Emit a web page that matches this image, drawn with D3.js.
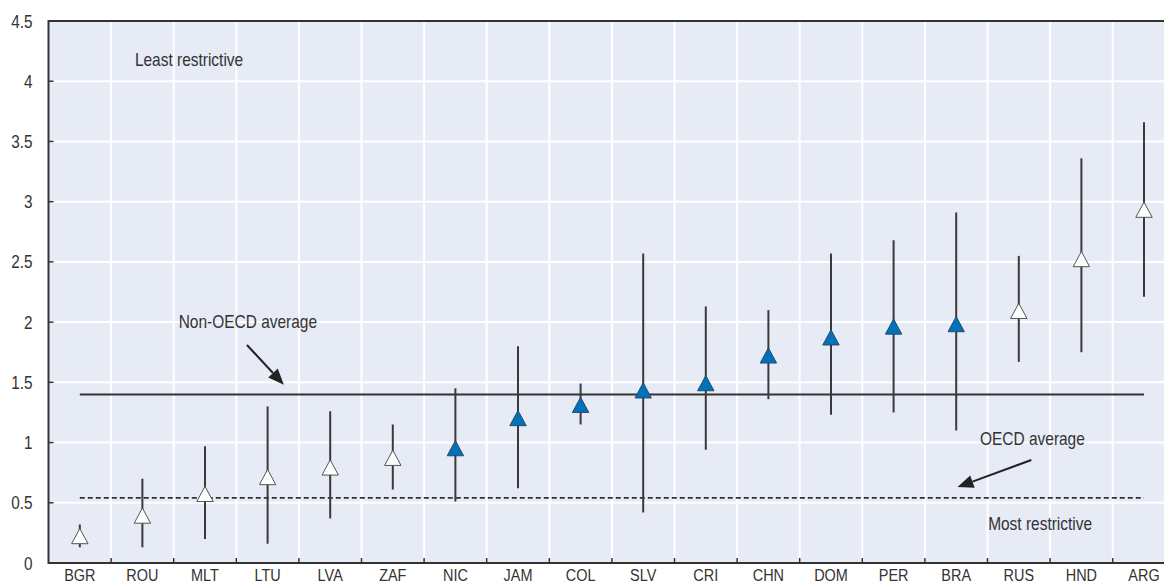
<!DOCTYPE html>
<html>
<head>
<meta charset="utf-8">
<script src="https://cdn.jsdelivr.net/npm/d3@7"></script>
<style>
html,body{margin:0;padding:0;background:#fff;overflow:hidden;}
svg{display:block;}
text{font-family:"Liberation Sans",Arial,Helvetica,sans-serif;fill:#333;}
</style>
</head>
<body>
<svg id="chart" width="1164" height="585"></svg>
<script>
// ---- data ----
const categories = ["BGR","ROU","MLT","LTU","LVA","ZAF","NIC","JAM","COL","SLV","CRI","CHN","DOM","PER","BRA","RUS","HND","ARG"];
const pointValues = [0.22,0.39,0.57,0.71,0.79,0.87,0.95,1.20,1.31,1.43,1.49,1.72,1.87,1.96,1.98,2.09,2.52,2.93];
const lowValues   = [0.13,0.13,0.20,0.16,0.37,0.61,0.51,0.62,1.15,0.42,0.94,1.36,1.23,1.25,1.10,1.67,1.75,2.21];
const highValues  = [0.32,0.70,0.97,1.30,1.26,1.15,1.45,1.80,1.49,2.57,2.13,2.10,2.57,2.68,2.91,2.55,3.36,3.66];
const oecdMember  = [true,true,true,true,true,true,false,false,false,false,false,false,false,false,false,true,true,true];
const nonOecdAverage = 1.40;
const oecdAverage = 0.54;
const yTicks = [0,0.5,1,1.5,2,2.5,3,3.5,4,4.5];
const yTickLabels = ["0","0.5","1","1.5","2","2.5","3","3.5","4","4.5"];

(function () {
// ---- layout ----
const svg = d3.select("#chart");
const pL = 48.5, pR = 1175.3, pT = 21, pB = 563;
const SX = 0.85; // horizontal squeeze for condensed look
const FS = 18;

const x = d3.scaleBand().domain(categories).range([pL, pR]).padding(0);
const xi = d3.scaleLinear().domain([-0.5, categories.length - 0.5]).range([pL, pR]);
const y = d3.scaleLinear().domain([0, 4.5]).range([pB, pT]);

const BLUE = "#0072bb", DARK = "#333", BG = "#e7ebf6";

// background
svg.append("rect").attr("x", pL).attr("y", pT).attr("width", pR - pL).attr("height", pB - pT).attr("fill", BG);

// gridlines
svg.append("g").selectAll("line").data(yTicks.slice(1, -1)).join("line")
  .attr("x1", pL).attr("x2", pR).attr("y1", d => y(d)).attr("y2", d => y(d))
  .attr("stroke", "#fff").attr("stroke-width", 2);
svg.append("g").selectAll("line").data(categories.slice(1)).join("line")
  .attr("x1", d => x(d)).attr("x2", d => x(d)).attr("y1", pT).attr("y2", pB)
  .attr("stroke", "#fff").attr("stroke-width", 2);

// axes frame
svg.append("line").attr("x1", pL).attr("x2", pR).attr("y1", pT).attr("y2", pT).attr("stroke", DARK).attr("stroke-width", 2);
svg.append("line").attr("x1", pL).attr("x2", pR).attr("y1", pB).attr("y2", pB).attr("stroke", DARK).attr("stroke-width", 2);
svg.append("line").attr("x1", pL).attr("x2", pL).attr("y1", pT - 1).attr("y2", pB + 1).attr("stroke", DARK).attr("stroke-width", 2);

// y ticks (inside) and labels
svg.append("g").selectAll("line").data(yTicks).join("line")
  .attr("x1", pL).attr("x2", pL + 5).attr("y1", d => y(d)).attr("y2", d => y(d))
  .attr("stroke", DARK).attr("stroke-width", 1.5);
svg.append("g").selectAll("text").data(yTicks).join("text")
  .attr("transform", d => `translate(32.5,${y(d) + 6.5}) scale(${SX},1)`)
  .attr("text-anchor", "end").attr("font-size", FS)
  .text((d, i) => yTickLabels[i]);

// x ticks (inside, at band boundaries) and labels
svg.append("g").selectAll("line").data(categories.slice(1)).join("line")
  .attr("x1", d => x(d)).attr("x2", d => x(d)).attr("y1", pB).attr("y2", pB - 5)
  .attr("stroke", DARK).attr("stroke-width", 1.5);
svg.append("g").selectAll("text").data(categories).join("text")
  .attr("transform", d => `translate(${x(d) + x.bandwidth() / 2},581) scale(${SX},1)`)
  .attr("text-anchor", "middle").attr("font-size", 17)
  .text(d => d);

// average lines
const cx = i => x(categories[i]) + x.bandwidth() / 2;
svg.append("line").attr("x1", cx(0)).attr("x2", cx(categories.length - 1))
  .attr("y1", y(nonOecdAverage)).attr("y2", y(nonOecdAverage))
  .attr("stroke", DARK).attr("stroke-width", 2);
svg.append("line").attr("x1", cx(0)).attr("x2", cx(categories.length - 1))
  .attr("y1", y(oecdAverage)).attr("y2", y(oecdAverage))
  .attr("stroke", DARK).attr("stroke-width", 1.8).attr("stroke-dasharray", "5,3");

// whiskers
const idx = d3.range(categories.length);
svg.append("g").selectAll("line").data(idx).join("line")
  .attr("x1", i => cx(i)).attr("x2", i => cx(i))
  .attr("y1", i => y(lowValues[i])).attr("y2", i => y(highValues[i]))
  .attr("stroke", "#3a3a3a").attr("stroke-width", 2);

// triangles
svg.append("g").selectAll("path").data(idx).join("path")
  .attr("d", "M0,-8L8.2,7.2L-8.2,7.2Z")
  .attr("transform", i => `translate(${cx(i)},${y(pointValues[i])})`)
  .attr("fill", i => oecdMember[i] ? "#fff" : BLUE)
  .attr("stroke", i => oecdMember[i] ? "#555" : "#2b4a66")
  .attr("stroke-width", 1);

// annotations
function label(txt, xIdx, yVal) {
  svg.append("text")
    .attr("transform", `translate(${xi(xIdx)},${y(yVal)}) scale(0.86,1)`)
    .attr("font-size", 18).text(txt);
}
label("Least restrictive", 0.88, 4.13);
label("Non-OECD average", 1.58, 1.95);
label("OECD average", 14.38, 0.98);
label("Most restrictive", 14.51, 0.275);

function arrow(x0i, y0v, x1i, y1v) {
  const X0 = xi(x0i), Y0 = y(y0v), X1 = xi(x1i), Y1 = y(y1v);
  const ang = Math.atan2(Y1 - Y0, X1 - X0);
  const L = 16, W = 6.5;
  const bx = X1 - L * Math.cos(ang), by = Y1 - L * Math.sin(ang);
  svg.append("line").attr("x1", X0).attr("y1", Y0).attr("x2", bx).attr("y2", by)
    .attr("stroke", "#222").attr("stroke-width", 2);
  const px = -Math.sin(ang) * W, py = Math.cos(ang) * W;
  svg.append("path")
    .attr("d", `M${X1},${Y1}L${bx + px},${by + py}L${bx - px},${by - py}Z`)
    .attr("fill", "#222");
}
arrow(2.67, 1.81, 3.26, 1.48);
arrow(15.2, 0.855, 14.02, 0.63);
})();
</script>
</body>
</html>
